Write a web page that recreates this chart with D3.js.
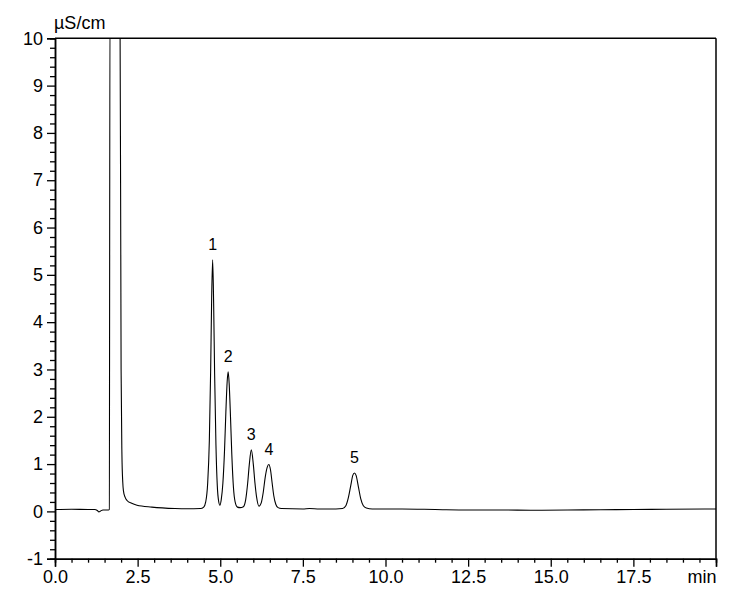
<!DOCTYPE html>
<html>
<head>
<meta charset="utf-8">
<script src="https://cdn.jsdelivr.net/npm/d3@7"></script>
<style>
  html, body { margin: 0; padding: 0; background: #fff; }
  svg { display: block; font-family: "Liberation Sans", Arial, Helvetica, sans-serif; }
</style>
</head>
<body>
<svg id="chart" width="740" height="600"></svg>
<script>
// ---- data ----
const times = [
  0.0, 0.5, 1.0, 1.2, 1.28, 1.33, 1.38, 1.45, 1.55, 1.62, 1.643, 1.665,
  1.965, 2.0, 2.025, 2.05, 2.07, 2.12, 2.18, 2.32, 2.48, 2.93, 3.63, 4.0, 4.4,
  4.50, 4.56, 4.62, 4.67, 4.71, 4.74, 4.77, 4.80, 4.83, 4.87, 4.91, 4.95, 4.99,
  5.03, 5.08, 5.13, 5.17, 5.21, 5.24, 5.27, 5.31, 5.35, 5.40, 5.45, 5.52,
  5.60, 5.70, 5.77, 5.83, 5.88, 5.94, 6.00, 6.05, 6.10, 6.17,
  6.24, 6.30, 6.36, 6.42, 6.47, 6.52, 6.57, 6.62, 6.68, 6.75, 6.85,
  7.5, 7.7, 8.0, 8.5,
  8.70, 8.80, 8.88, 8.95, 9.01, 9.06, 9.11, 9.18, 9.25, 9.33, 9.42, 9.6,
  10.5, 11.5, 12.5, 13.5, 14.5, 15.5, 16.5, 17.5, 18.5, 20.0
];
const signal = [
  0.04, 0.045, 0.04, 0.04, 0.02, -0.01, 0.01, 0.03, 0.03, 0.03, 0.04, 11,
  11, 3.0, 1.2, 0.62, 0.44, 0.30, 0.23, 0.17, 0.13, 0.09, 0.06, 0.055, 0.06,
  0.09, 0.2, 0.6, 1.5, 3.0, 4.5, 5.32, 4.4, 2.9, 1.4, 0.55, 0.22, 0.13,
  0.25, 0.6, 1.3, 2.1, 2.75, 2.95, 2.7, 2.0, 1.2, 0.5, 0.2, 0.09,
  0.08, 0.1, 0.25, 0.6, 1.0, 1.30, 1.0, 0.6, 0.3, 0.11,
  0.18, 0.4, 0.72, 0.93, 0.99, 0.88, 0.6, 0.33, 0.15, 0.08, 0.06,
  0.05, 0.06, 0.05, 0.05,
  0.06, 0.12, 0.3, 0.55, 0.76, 0.81, 0.76, 0.52, 0.27, 0.12, 0.07, 0.05,
  0.05, 0.04, 0.03, 0.03, 0.025, 0.03, 0.035, 0.04, 0.045, 0.05
];
const peakNames   = ["1", "2", "3", "4", "5"];
const peakTimes   = [4.77, 5.24, 5.94, 6.47, 9.06];
const peakHeights = [5.32, 2.95, 1.30, 0.99, 0.81];

const xTickValues = [0, 2.5, 5, 7.5, 10, 12.5, 15, 17.5, 20];
const xTickLabels = ["0.0", "2.5", "5.0", "7.5", "10.0", "12.5", "15.0", "17.5", "min"];
const yTickValues = [-1, 0, 1, 2, 3, 4, 5, 6, 7, 8, 9, 10];
const yUnit = "\u00B5S/cm";

// ---- layout ----
const svg = d3.select("#chart");
const margin = { left: 55, top: 38.3, right: 24, bottom: 41.3 };
const W = 740, H = 600;
const x = d3.scaleLinear().domain([0, 20]).range([margin.left, W - margin.right]);
const y = d3.scaleLinear().domain([-1, 10]).range([H - margin.bottom, margin.top]);

svg.append("defs").append("clipPath").attr("id", "plotclip")
  .append("rect")
  .attr("x", x(0)).attr("y", y(10))
  .attr("width", x(20) - x(0)).attr("height", y(-1) - y(10));

// trace
const pts = times.map((t, i) => [t, signal[i]]);
const line = d3.line().x(d => x(d[0])).y(d => y(d[1])).curve(d3.curveMonotoneX);
svg.append("path")
  .attr("clip-path", "url(#plotclip)")
  .attr("d", line(pts))
  .attr("fill", "none")
  .attr("stroke", "#000")
  .attr("stroke-width", 1.1)
  .attr("stroke-linejoin", "round");

// frame top & right
svg.append("line")
  .attr("x1", x(0)).attr("x2", x(20)).attr("y1", y(10)).attr("y2", y(10))
  .attr("stroke", "#000").attr("stroke-width", 1.5);
svg.append("line")
  .attr("x1", x(20)).attr("x2", x(20)).attr("y1", y(10)).attr("y2", y(-1))
  .attr("stroke", "#000").attr("stroke-width", 1.5);

// x axis
const xMinor = d3.range(0, 20.001, 0.5).filter(v => Math.abs(v / 2.5 - Math.round(v / 2.5)) > 1e-6);
const xAxisMinor = d3.axisBottom(x).tickValues(xMinor).tickSize(4).tickFormat("");
const xAxisMajor = d3.axisBottom(x).tickValues(xTickValues).tickSize(8).tickPadding(4)
  .tickFormat((d, i) => xTickLabels[i]);
const gxm = svg.append("g").attr("transform", `translate(0,${y(-1)})`).call(xAxisMinor);
const gx = svg.append("g").attr("transform", `translate(0,${y(-1)})`).call(xAxisMajor);
[gx, gxm].forEach(g => {
  g.select(".domain").attr("stroke", "#000").attr("stroke-width", 1.5);
  g.selectAll(".tick line").attr("stroke", "#000").attr("stroke-width", 1.3);
});
gx.selectAll(".tick text").attr("font-size", 18).attr("fill", "#000")
  .attr("font-family", "Liberation Sans, Arial, sans-serif");
gx.selectAll(".tick").filter((d, i) => i === xTickValues.length - 1)
  .select("text").attr("text-anchor", "end").attr("x", 0);

// y axis
const yMinor = d3.range(-1, 10.001, 0.2).filter(v => Math.abs(v - Math.round(v)) > 1e-6);
const yAxisMinor = d3.axisLeft(y).tickValues(yMinor).tickSize(5).tickFormat("");
const yAxisMajor = d3.axisLeft(y).tickValues(yTickValues).tickSize(8).tickPadding(4)
  .tickFormat(d3.format("d"));
const gym = svg.append("g").attr("transform", `translate(${x(0)},0)`).call(yAxisMinor);
const gy = svg.append("g").attr("transform", `translate(${x(0)},0)`).call(yAxisMajor);
[gy, gym].forEach(g => {
  g.select(".domain").attr("stroke", "#000").attr("stroke-width", 1.5);
  g.selectAll(".tick line").attr("stroke", "#000").attr("stroke-width", 1.3);
});
gy.selectAll(".tick text").attr("font-size", 18).attr("fill", "#000")
  .attr("font-family", "Liberation Sans, Arial, sans-serif")
  .text(d => d < 0 ? "-" + Math.abs(d) : d);

// unit label
svg.append("text")
  .attr("x", x(0) - 1).attr("y", 29)
  .attr("font-size", 18).attr("fill", "#000")
  .text(yUnit);

// peak labels
svg.append("g").selectAll("text")
  .data(peakNames)
  .join("text")
  .attr("x", (d, i) => x(peakTimes[i]))
  .attr("y", (d, i) => y(peakHeights[i]) - 10)
  .attr("text-anchor", "middle")
  .attr("font-size", 16)
  .attr("fill", "#000")
  .text(d => d);
</script>
</body>
</html>
